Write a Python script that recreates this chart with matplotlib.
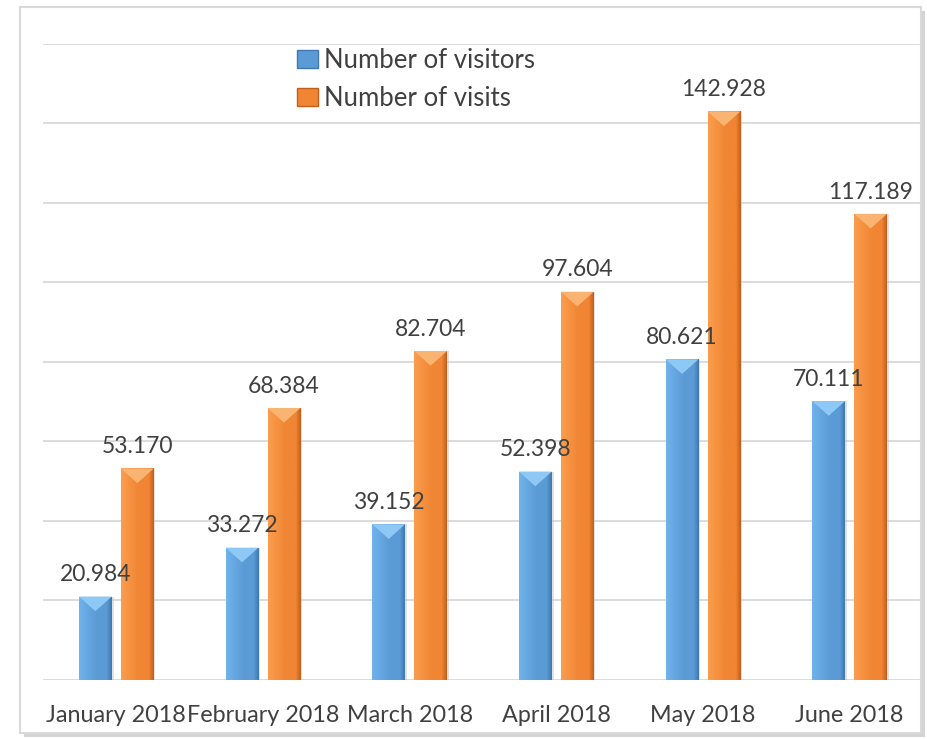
import numpy as np
import matplotlib
matplotlib.use("Agg")
import matplotlib.pyplot as plt
from matplotlib.patches import Rectangle, Polygon, Patch
from matplotlib.colors import LinearSegmentedColormap

plt.rcParams['font.family'] = ['Lato', 'DejaVu Sans']

categories = ["January 2018", "February 2018", "March 2018", "April 2018", "May 2018", "June 2018"]
visitors = [20.984, 33.272, 39.152, 52.398, 80.621, 70.111]
visits = [53.170, 68.384, 82.704, 97.604, 142.928, 117.189]
series_names = ["Number of visitors", "Number of visits"]

W, H = 928, 739
fig = plt.figure(figsize=(W / 100, H / 100), dpi=100)

# outer frame with soft shadow
fig.patches.append(Rectangle((24 / W, 1 - 737 / H), (925 - 24) / W, (737 - 11) / H,
                             transform=fig.transFigure, facecolor='#d4d4d4', edgecolor='none', zorder=0))
fig.patches.append(Rectangle((20 / W, 1 - 733 / H), (921 - 20) / W, (733 - 7) / H,
                             transform=fig.transFigure, facecolor='white', edgecolor='#d9d9d9', lw=1.5, zorder=1))

ax = fig.add_axes([43 / W, 1 - 680 / H, (923 - 43) / W, (680 - 43.5) / H])
ax.set_facecolor('none')
ax.set_zorder(2)

x = np.arange(len(categories))
bw = 0.224
off = 0.143

styles = [
    dict(light='#6fb2ec', base='#5b9bd5', dark='#3f78b2', top='#8ec8f4'),
    dict(light='#fb9d4e', base='#f08533', dark='#c2601c', top='#fab472'),
]

def draw_series(xpos, vals, st):
    bars = ax.bar(xpos, vals, bw, color=st['base'], zorder=3, linewidth=0)
    # soft shadow on right side
    ax.bar(xpos + 0.012, vals, bw, color='#bdbdbd', alpha=0.45, zorder=2.5, linewidth=0)
    cmap = LinearSegmentedColormap.from_list('g', [(0, st['light']), (0.55, st['base']),
                                                   (0.85, st['base']), (1.0, st['dark'])])
    grad = np.linspace(0, 1, 64).reshape(1, -1)
    for b, v in zip(bars, vals):
        x0 = b.get_x()
        x1 = x0 + b.get_width()
        im = ax.imshow(grad, extent=[x0, x1, 0, v], aspect='auto', cmap=cmap, zorder=3.1,
                       interpolation='bilinear')
        im.set_clip_path(b)
        bev = 3.7
        ax.add_patch(Polygon([(x0, v), (x1, v), ((x0 + x1) / 2, v - bev)], closed=True,
                             facecolor=st['top'], edgecolor='none', zorder=3.2))
        ax.annotate(f"{v:.3f}", xy=((x0 + x1) / 2, v), xytext=(0, 11), textcoords='offset points',
                    ha='center', va='baseline', fontsize=16.5, color='#404040', zorder=5)

draw_series(x - off, visitors, styles[0])
draw_series(x + off, visits, styles[1])

ax.set_xlim(-0.5, len(categories) - 0.5)
ax.set_ylim(0, 160)
ax.set_yticks(np.arange(0, 161, 20))
ax.set_yticklabels([])
ax.grid(axis='y', color='#d9d9d9', lw=1.3, zorder=0)
ax.set_axisbelow(True)
ax.set_xticks(x)
ax.set_xticklabels(categories, fontsize=16.8, color='#404040')
ax.tick_params(axis='both', length=0)
ax.tick_params(axis='x', pad=18)
for s in ax.spines.values():
    s.set_visible(False)

handles = [Patch(facecolor=styles[0]['base'], edgecolor=styles[0]['dark']),
           Patch(facecolor=styles[1]['base'], edgecolor=styles[1]['dark'])]
fig.legend(handles, series_names, loc='upper left', bbox_to_anchor=(297 / W, 1 - 48 / H),
           frameon=False, fontsize=18.5, labelcolor='#404040', handlelength=0.8, handleheight=0.68,
           handletextpad=0.25, labelspacing=0.5, borderpad=0, borderaxespad=0)

fig.savefig('out.png', dpi=100)
